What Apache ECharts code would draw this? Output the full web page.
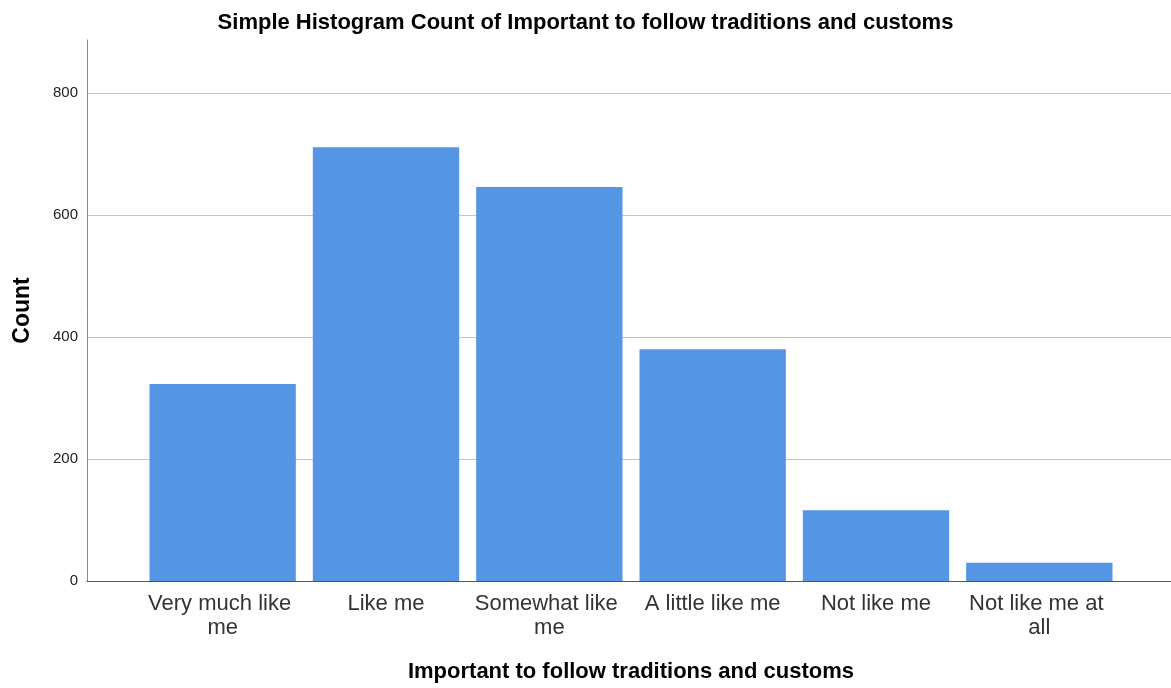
<!DOCTYPE html>
<html>
<head>
<meta charset="utf-8">
<script src="https://cdn.jsdelivr.net/npm/echarts@6/dist/echarts.min.js"></script>
<style>
html,body{margin:0;padding:0;background:#fff;}
#chart{width:1171px;height:688px;}
</style>
</head>
<body>
<div id="chart"></div>
<script>
const titleText = 'Simple Histogram Count of Important to follow traditions and customs';
const categories = ['Very much like me', 'Like me', 'Somewhat like me', 'A little like me', 'Not like me', 'Not like me at all'];
const counts = [323, 711, 646, 380, 116, 30];
const yAxisName = 'Count';
const xAxisName = 'Important to follow traditions and customs';
const yMax = 887;
const yInterval = 200;

const chart = echarts.init(document.getElementById('chart'), null, {renderer: 'canvas'});
const font = '"Liberation Sans", Arial, sans-serif';
chart.setOption({
  backgroundColor: '#ffffff',
  animation: false,
  title: {
    text: titleText,
    left: 'center',
    top: 7,
    textStyle: {fontFamily: font, fontSize: 22, fontWeight: 'bold', color: '#000'}
  },
  grid: [
    {left: 87, right: 0, top: 40, bottom: 107},
    {left: 141, right: 50, top: 40, bottom: 107}
  ],
  xAxis: [
    {
      type: 'value', gridIndex: 0, min: 0, max: 1,
      axisLine: {show: true, lineStyle: {color: '#555', width: 1}},
      axisTick: {show: false}, axisLabel: {show: false}, splitLine: {show: false}
    },
    {
      type: 'category', gridIndex: 1, data: categories,
      axisLine: {show: false}, axisTick: {show: false},
      axisLabel: {
        interval: 0, fontFamily: font, fontSize: 22, color: '#333',
        width: 155, overflow: 'break', lineHeight: 24, margin: 11
      },
      name: xAxisName, nameLocation: 'middle', nameGap: 80,
      nameTextStyle: {fontFamily: font, fontSize: 22, fontWeight: 'bold', color: '#000'}
    }
  ],
  yAxis: [
    {
      type: 'value', gridIndex: 0, min: 0, max: yMax, interval: yInterval,
      axisLine: {show: true, lineStyle: {color: '#888', width: 1}},
      axisTick: {show: false},
      axisLabel: {fontFamily: font, fontSize: 15, color: '#222', margin: 9, showMaxLabel: false,
        formatter: v => (v % yInterval === 0 ? String(v) : '')},
      splitLine: {show: true, showMaxLine: false, lineStyle: {color: '#c4c4c4', width: 1}},
      name: yAxisName, nameLocation: 'middle', nameGap: 53, nameRotate: 90,
      nameTextStyle: {fontFamily: font, fontSize: 23, fontWeight: 'bold', color: '#000'}
    },
    {
      type: 'value', gridIndex: 1, min: 0, max: yMax, interval: yInterval, show: false
    }
  ],
  series: [{
    type: 'bar', xAxisIndex: 1, yAxisIndex: 1,
    data: counts,
    barCategoryGap: '10.4%',
    itemStyle: {color: '#5596e4'}
  }]
});
</script>
</body>
</html>
